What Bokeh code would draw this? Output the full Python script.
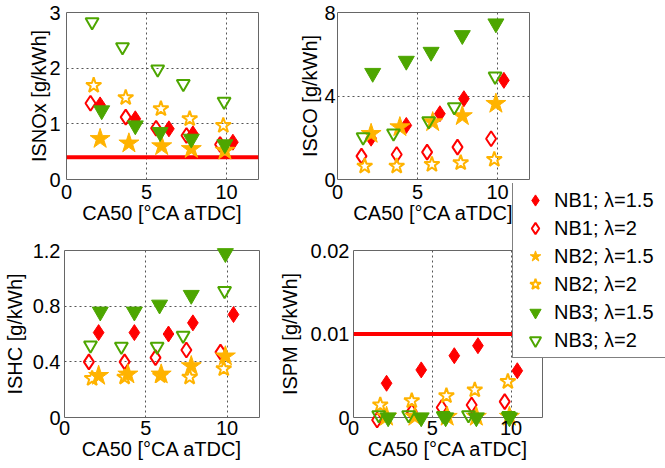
from bokeh.plotting import figure
from bokeh.layouts import row, column
from bokeh.models import FixedTicker, Span, Legend, LegendItem, Range1d
from bokeh.embed import file_html
from bokeh.resources import INLINE

# ---------------- data ----------------
series_labels = ["NB1; λ=1.5", "NB1; λ=2", "NB2; λ=1.5", "NB2; λ=2", "NB3; λ=1.5", "NB3; λ=2"]

# CA50 [°CA aTDC] for each series
ca50_nb1_l15 = [2.1, 4.3, 6.4, 7.9, 10.4]
ca50_nb1_l2 = [1.5, 3.7, 5.6, 7.5, 9.6]
ca50_nb2_l15 = [2.1, 3.9, 5.95, 7.8, 9.9]
ca50_nb2_l2 = [1.7, 3.7, 5.9, 7.7, 9.8]
ca50_nb3_l15 = [2.2, 4.3, 5.85, 7.8, 9.9]
ca50_nb3_l2 = [1.6, 3.5, 5.7, 7.3, 9.85]

# ISNOx [g/kWh]
nox_nb1_l15 = [1.34, 1.09, 0.91, 0.82, 0.67]
nox_nb1_l2 = [1.37, 1.12, 0.92, 0.79, 0.63]
nox_nb2_l15 = [0.73, 0.65, 0.60, 0.55, 0.52]
nox_nb2_l2 = [1.69, 1.47, 1.27, 1.09, 0.97]
nox_nb3_l15 = [1.24, 0.97, 0.85, 0.73, 0.63]
nox_nb3_l2 = [2.83, 2.38, 1.98, 1.72, 1.40]

# ISCO [g/kWh]
co_nb1_l15 = [1.98, 2.59, 3.15, 3.87, 4.75]
co_nb1_l2 = [1.12, 1.20, 1.31, 1.55, 1.95]
co_nb2_l15 = [2.19, 2.51, 2.75, 3.04, 3.63]
co_nb2_l2 = [0.64, 0.64, 0.72, 0.80, 0.96]
co_nb3_l15 = [5.10, 5.68, 6.11, 6.91, 7.47]
co_nb3_l2 = [2.03, 2.22, 2.80, 3.47, 4.94]

# ISHC [g/kWh]
hc_nb1_l15 = [0.61, 0.61, 0.60, 0.68, 0.74]
hc_nb1_l2 = [0.40, 0.40, 0.43, 0.485, 0.47]
hc_nb2_l15 = [0.30, 0.31, 0.31, 0.37, 0.44]
hc_nb2_l2 = [0.28, 0.29, 0.30, 0.29, 0.35]
hc_nb3_l15 = [0.76, 0.76, 0.81, 0.88, 1.18]
hc_nb3_l2 = [0.52, 0.51, 0.51, 0.59, 0.91]

# ISPM [g/kWh]
pm_nb1_l15 = [0.0041, 0.0057, 0.0074, 0.0086, 0.0056]
pm_nb1_l2 = [-0.0003, 0.0007, 0.0012, 0.0015, 0.0019]
pm_nb2_l15 = [0.0001, 0.0001, 0.0001, 0.0001, 0.0001]
pm_nb2_l2 = [0.0015, 0.0020, 0.0026, 0.0033, 0.0043]
pm_nb3_l15 = [0.0, 0.0, 0.0, 0.0, 0.0]
pm_nb3_l2 = [0.0003, 0.0003, 0.0002, 0.0003, 0.0002]

# limit values
nox_limit = 0.4
pm_limit = 0.01

x_ticks = [0, 5, 10]
nox_ticks = [0, 1, 2, 3]
co_ticks = [0, 4, 8]
hc_ticks = [0, 0.4, 0.8, 1.2]
pm_ticks = [0, 0.01, 0.02]

# ---------------- style ----------------
RED = "#ff0000"
ORANGE = "#ffb300"
GREEN = "#4da600"
FONT = "Liberation Sans"

ca50_all = [ca50_nb1_l15, ca50_nb1_l2, ca50_nb2_l15, ca50_nb2_l2, ca50_nb3_l15, ca50_nb3_l2]
styles = [
    dict(marker="diamond", size=16, fill_color=RED, line_color=RED, line_width=1),
    dict(marker="diamond", size=15, fill_color=None, line_color=RED, line_width=2),
    dict(marker="star", size=21, fill_color=ORANGE, line_color=ORANGE, line_width=1),
    dict(marker="star", size=16, fill_color=None, line_color=ORANGE, line_width=2),
    dict(marker="inverted_triangle", size=16, fill_color=GREEN, line_color=GREEN, line_width=1),
    dict(marker="inverted_triangle", size=13, fill_color=None, line_color=GREEN, line_width=2),
]


def make_fig(width, height, left, right, top, bottom, ymax, yticks, ylabel,
             ytick_standoff, ylabel_standoff, xtick_standoff, yfmt=None):
    p = figure(width=width, height=height, x_range=Range1d(0, 12), y_range=Range1d(0, ymax),
               output_backend="svg", toolbar_location=None, frame_align=False,
               min_border_left=left, min_border_right=right,
               min_border_top=top, min_border_bottom=bottom)
    p.outline_line_color = "#666666"
    p.outline_line_width = 1
    p.background_fill_color = "white"
    p.border_fill_color = None
    p.xaxis.ticker = FixedTicker(ticks=x_ticks)
    p.yaxis.ticker = FixedTicker(ticks=yticks)
    for ax in (p.xaxis[0], p.yaxis[0]):
        ax.major_tick_in = 0
        ax.major_tick_out = 0
        ax.minor_tick_in = 0
        ax.minor_tick_out = 0
        ax.axis_line_color = None
        ax.major_label_text_font = FONT
        ax.major_label_text_font_size = "20px"
        ax.major_label_text_color = "black"
        ax.axis_label_text_font = FONT
        ax.axis_label_text_font_size = "20px"
        ax.axis_label_text_font_style = "normal"
        ax.axis_label_text_color = "black"
    p.xaxis.axis_label = "CA50 [°CA aTDC]"
    p.yaxis.axis_label = ylabel
    p.yaxis.major_label_standoff = ytick_standoff
    p.yaxis.axis_label_standoff = ylabel_standoff
    p.xaxis.major_label_standoff = xtick_standoff
    p.xaxis.axis_label_standoff = 0
    if yfmt is not None:
        p.yaxis.major_label_overrides = yfmt
    for g in (p.xgrid[0], p.ygrid[0]):
        g.grid_line_color = "#555555"
        g.grid_line_dash = "2 3"
        g.grid_line_width = 1
    return p


def add_series(p, ys, **kw):
    rs = []
    for x, y, st in zip(ca50_all, ys, styles):
        rs.append(p.scatter(x, y, **st, **kw))
    return rs


# top-left: NOx
p_nox = make_fig(275, 232, 66, 17, 12, 53, 3, nox_ticks, "ISNOx [g/kWh]", 6, -4, 5)
p_nox.add_layout(Span(location=nox_limit, dimension="width", line_color=RED, line_width=4, level="underlay"))
add_series(p_nox, [nox_nb1_l15, nox_nb1_l2, nox_nb2_l15, nox_nb2_l2, nox_nb3_l15, nox_nb3_l2], level="guide")

# bottom-left: HC
p_hc = make_fig(275, 236, 64, 16, 18, 51, 1.2, hc_ticks, "ISHC [g/kWh]", 4, 4, 3,
                yfmt={0: "0", 0.4: "0.4", 0.8: "0.8", 1.2: "1.2"})
add_series(p_hc, [hc_nb1_l15, hc_nb1_l2, hc_nb2_l15, hc_nb2_l2, hc_nb3_l15, hc_nb3_l2], level="guide")

# top-right: CO
p_co = make_fig(390, 232, 62, 136, 12, 53, 8, co_ticks, "ISCO [g/kWh]", 2, 0, 5)
add_series(p_co, [co_nb1_l15, co_nb1_l2, co_nb2_l15, co_nb2_l2, co_nb3_l15, co_nb3_l2], level="guide")

# bottom-right: PM
p_pm = make_fig(390, 236, 76, 123, 18, 51, 0.02, pm_ticks, "ISPM [g/kWh]", 4, 7, 3,
                yfmt={0: "0", 0.01: "0.01", 0.02: "0.02"})
p_pm.add_layout(Span(location=pm_limit, dimension="width", line_color=RED, line_width=4, level="underlay"))
pm_ys = [pm_nb1_l15, pm_nb1_l2, pm_nb2_l15, pm_nb2_l2, pm_nb3_l15, pm_nb3_l2]
add_series(p_pm, pm_ys, level="guide")

# legend panel, overlapping the right-hand plots (series copies kept hidden, used only as legend keys)
p_leg = figure(width=154, height=176, x_range=Range1d(0, 12), y_range=Range1d(0, 0.02),
               output_backend="svg", toolbar_location=None, frame_align=False,
               x_axis_location=None, y_axis_location=None, min_border=0)
p_leg.grid.visible = False
p_leg.outline_line_color = None
p_leg.background_fill_color = None
p_leg.border_fill_color = None
leg_rs = add_series(p_leg, pm_ys, visible=False)
legend = Legend(
    items=[LegendItem(label=lab, renderers=[r]) for lab, r in zip(series_labels, leg_rs)],
    location=(1, 1), orientation="vertical",
    border_line_color="#808080", border_line_width=1, border_line_alpha=1.0,
    background_fill_color="white", background_fill_alpha=1.0,
    padding=3, spacing=0, margin=0,
    label_height=28, glyph_height=28, glyph_width=38, label_standoff=0, label_width=140,
    label_text_font=FONT, label_text_font_size="20px", label_text_color="black",
    label_text_baseline="middle",
)
p_leg.add_layout(legend, "center")
p_leg.margin = (-285, 0, 0, 236)

layout = row(column(p_nox, p_hc), column(p_co, p_pm, p_leg))

open("out.html", "w").write(file_html(layout, INLINE))
